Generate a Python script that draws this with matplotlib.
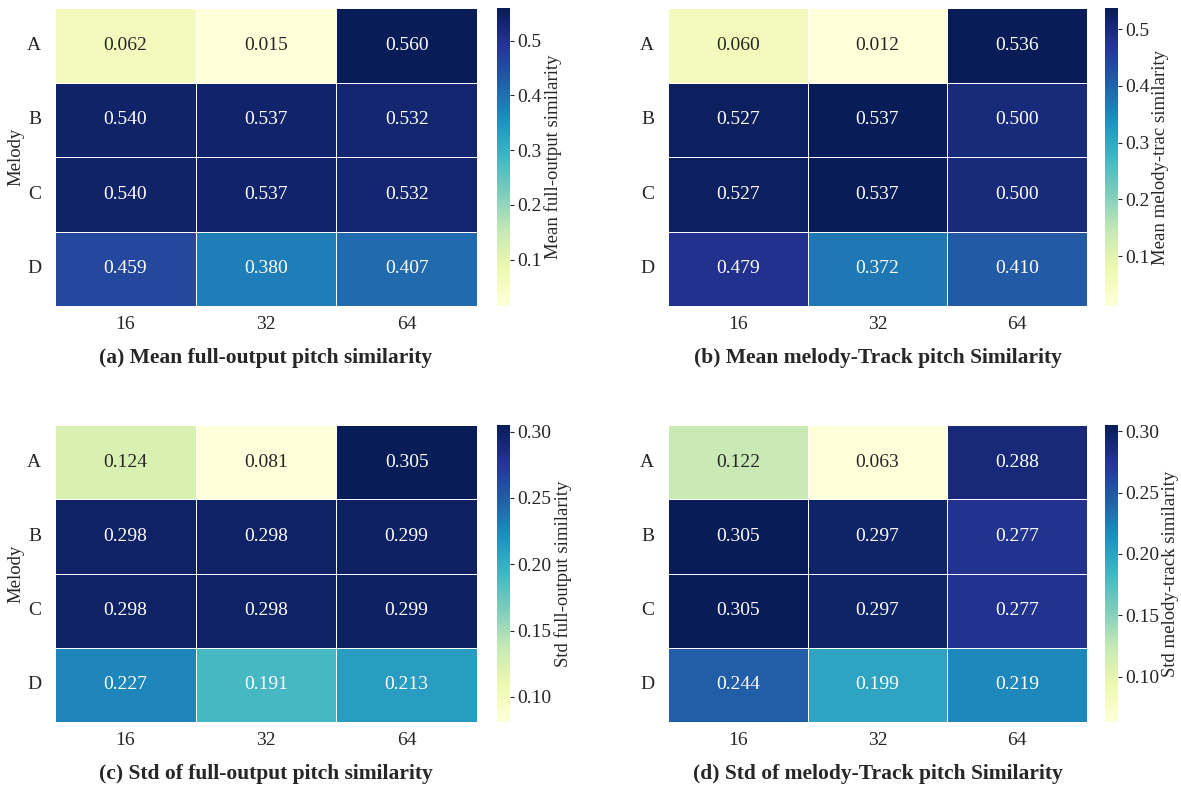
import numpy as np
import matplotlib
matplotlib.use("Agg")
import matplotlib.pyplot as plt
import seaborn as sns

rows = ["A", "B", "C", "D"]
cols = ["16", "32", "64"]

mean_full = [[0.062, 0.015, 0.560],
             [0.540, 0.537, 0.532],
             [0.540, 0.537, 0.532],
             [0.459, 0.380, 0.407]]
mean_melody = [[0.060, 0.012, 0.536],
               [0.527, 0.537, 0.500],
               [0.527, 0.537, 0.500],
               [0.479, 0.372, 0.410]]
std_full = [[0.124, 0.081, 0.305],
            [0.298, 0.298, 0.299],
            [0.298, 0.298, 0.299],
            [0.227, 0.191, 0.213]]
std_melody = [[0.122, 0.063, 0.288],
              [0.305, 0.297, 0.277],
              [0.305, 0.297, 0.277],
              [0.244, 0.199, 0.219]]

cbar_labels = ["Mean full-output similarity", "Mean melody-trac similarity",
               "Std full-output similarity", "Std melody-track similarity"]
captions = ["(a) Mean full-output pitch similarity", "(b) Mean melody-Track pitch Similarity",
            "(c) Std of full-output pitch similarity", "(d) Std of melody-Track pitch Similarity"]
cbar_ticks = [[0.1, 0.2, 0.3, 0.4, 0.5], [0.1, 0.2, 0.3, 0.4, 0.5],
              [0.10, 0.15, 0.20, 0.25, 0.30], [0.10, 0.15, 0.20, 0.25, 0.30]]
cbar_fmt = ["%.1f", "%.1f", "%.2f", "%.2f"]

TXT = "#262626"
plt.rcParams['font.family'] = ['Liberation Serif', 'DejaVu Serif']
plt.rcParams['text.color'] = TXT
plt.rcParams['axes.labelcolor'] = TXT
plt.rcParams['xtick.color'] = TXT
plt.rcParams['ytick.color'] = TXT

W, H = 1181, 787
fig = plt.figure(figsize=(W / 100, H / 100), dpi=100)

def px_rect(x0, x1, y0, y1):
    return [x0 / W, 1 - y1 / H, (x1 - x0) / W, (y1 - y0) / H]

layout = [
    ((55, 477), (497, 510), (8, 306)),
    ((668, 1087), (1105, 1118), (8, 306)),
    ((55, 477), (497, 510), (425, 722)),
    ((668, 1087), (1105, 1118), (425, 722)),
]
datasets = [mean_full, mean_melody, std_full, std_melody]

for i, (data, (hx, cx, yy)) in enumerate(zip(datasets, layout)):
    ax = fig.add_axes(px_rect(hx[0], hx[1], yy[0], yy[1]))
    cax = fig.add_axes(px_rect(cx[0], cx[1], yy[0], yy[1]))
    arr = np.array(data)
    sns.heatmap(arr, ax=ax, cbar_ax=cax, cmap="YlGnBu", annot=True, fmt=".3f",
                annot_kws={"fontsize": 14}, linewidths=0.7, linecolor="white",
                xticklabels=cols, yticklabels=rows,
                vmin=arr.min(), vmax=arr.max(),
                cbar_kws={"ticks": cbar_ticks[i], "format": cbar_fmt[i]})
    ax.tick_params(axis="x", length=0, labelsize=14, pad=7)
    ax.tick_params(axis="y", length=0, labelsize=14, pad=10)
    ax.set_yticklabels(rows, rotation=0)
    ax.set_xticklabels(cols, rotation=0)
    if i % 2 == 0:
        ax.set_ylabel("Melody", fontsize=13.5, labelpad=2)
    ax.text(0.5, -0.175, captions[i], transform=ax.transAxes, ha="center", va="center",
            fontsize=15.5, fontweight="bold", color=TXT)
    cax.tick_params(labelsize=14, length=3, width=0.8, pad=2)
    cax.set_ylabel(cbar_labels[i], fontsize=13.5, labelpad=2)
    for s in cax.spines.values():
        s.set_visible(False)

fig.savefig("out.png", dpi=100)
